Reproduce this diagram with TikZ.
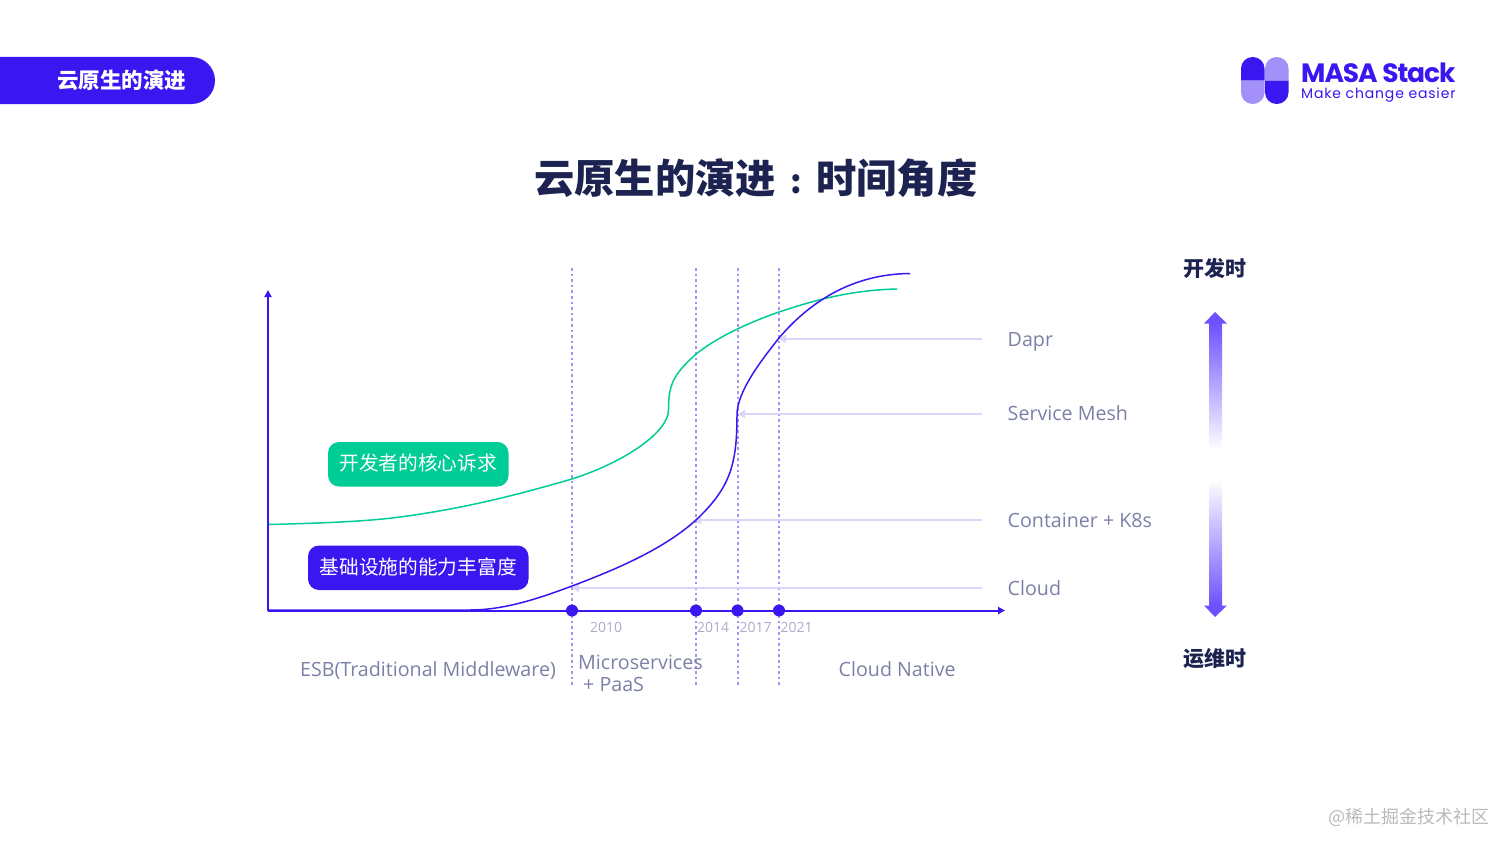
\documentclass[tikz,border=0pt]{standalone}
\usepackage{fontspec}
\usetikzlibrary{arrows.meta}
\setmainfont{Noto Sans CJK SC}
\newfontfamily\latinf{Open Sans}
\newfontfamily\logof[LetterSpace=-4]{Poppins Bold}
\newfontfamily\logosub[LetterSpace=6]{Poppins}
\definecolor{mblue}{HTML}{3A16F0}
\definecolor{mlight}{HTML}{A391F9}
\definecolor{mgreen}{HTML}{00CC96}
\definecolor{mnavy}{HTML}{1C2350}
\definecolor{mlabel}{HTML}{7B80A6}
\definecolor{myear}{HTML}{ABABC9}
\definecolor{mref}{HTML}{DAD5FA}
\definecolor{mdash}{HTML}{A592F0}
\definecolor{marrow}{HTML}{6F50FF}
\definecolor{mwater}{HTML}{B9B9B9}
\tikzset{
  px/.style={x=1pt,y=-1pt},
  lbl/.style={anchor=base west,inner sep=0pt,text=mlabel,font=\latinf\fontsize{19.65}{24}\selectfont},
  yearlbl/.style={anchor=base west,inner sep=0pt,text=myear,font=\latinf\fontsize{14}{17}\selectfont},
  dotnode/.style={circle,fill=mblue,inner sep=0pt,minimum size=12pt},
  vline/.style={mdash,line width=1.5pt,dash pattern=on 2.6pt off 3pt},
  refline/.style={mref,line width=1.5pt,-{Triangle[length=7pt,width=8pt]}},
  axis/.style={mblue,line width=2pt,-{Triangle[length=7pt,width=7pt]}},
  tagbox/.style={rounded corners=11pt,text=white,inner sep=0pt,font=\fontsize{19.7}{24}\selectfont},
  sidehead/.style={inner sep=0pt,text=mnavy,font=\bfseries\fontsize{21}{25}\selectfont}
}
\begin{document}
\begin{tikzpicture}[px]
\useasboundingbox (0,0) rectangle (1512,851);
% header pill
\fill[mblue] (0,57) [rounded corners=23.5pt] -- (215,57) -- (215,104) [sharp corners] -- (0,104) -- cycle;
\node[inner sep=0pt,text=white,font=\bfseries\fontsize{21.5}{25}\selectfont] (pill) at (121.5,80) {云原生的演进};
% logo
\fill[mblue] (1241,80.5) [rounded corners=11.5pt] -- (1241,57) -- (1264.5,57) [sharp corners] -- (1264.5,80.5) -- cycle;
\fill[mlight] (1241,80.5) [rounded corners=11.5pt] -- (1241,104) -- (1264.5,104) [sharp corners] -- (1264.5,80.5) -- cycle;
\fill[mlight] (1265,80.5) [rounded corners=11.5pt] -- (1265,57) -- (1288.5,57) [sharp corners] -- (1288.5,80.5) -- cycle;
\fill[mblue] (1265,80.5) [rounded corners=11.5pt] -- (1265,104) -- (1288.5,104) [sharp corners] -- (1288.5,80.5) -- cycle;
\node[anchor=base west,inner sep=0pt,text=mblue,font=\logof\fontsize{26.5}{30}\selectfont] (brand) at (1301,82.5) {MASA Stack};
\node[anchor=base west,inner sep=0pt,text=mblue,font=\logosub\fontsize{14}{17}\selectfont] (slogan) at (1301,98) {Make change easier};
% title
\node[inner sep=0pt,text=mnavy,font=\bfseries\fontsize{40.3}{48}\selectfont] (title) at (755.8,178) {云原生的演进\makebox[40.3pt][c]{\fontsize{33}{40}\selectfont :}时间角度};
% vertical dotted lines
\foreach \n/\x in {a/572,b/696,c/738,d/779}{
  \coordinate (\n top) at (\x,268);
  \coordinate (\n bot) at (\x,686);
  \draw[vline] (\n top) -- (\n bot);
}
% reference lines
\coordinate (r1s) at (982,339); \coordinate (r1e) at (779,339);
\coordinate (r2s) at (982,414); \coordinate (r2e) at (738,414);
\coordinate (r3s) at (982,520); \coordinate (r3e) at (694,520);
\coordinate (r4s) at (982,588); \coordinate (r4e) at (572,588);
\foreach \i in {1,2,3,4}{\draw[refline] (r\i s) -- (r\i e);}
% axes
\coordinate (origin) at (268,610.5);
\coordinate (yend) at (268,290);
\coordinate (xend) at (1005,610.5);
\draw[axis] (origin) -- (yend);
\draw[axis] (origin) -- (xend);
% curves
\draw[mgreen,line width=1.5pt] (269,524.5) .. controls (330,523) and (370,521) .. (400,517)
  .. controls (460,509) and (510,497) .. (572,479)
  .. controls (625,462) and (668.5,432) .. (668.5,410)
  .. controls (668.5,385) and (673,375) .. (695,355)
  .. controls (715,338) and (750,322) .. (779,312)
  .. controls (812,301) and (850,290) .. (897,289);
\draw[mblue,line width=1.5pt] (269,610) -- (470,610)
  .. controls (505,610) and (540,598) .. (572,586)
  .. controls (620,568) and (665,548) .. (696,520)
  .. controls (730,488) and (737,465) .. (737,415)
  .. controls (737,392) and (760,362) .. (779,338)
  .. controls (808,304) and (850,274) .. (910,273.5);
% dots
\node[dotnode] (d2010) at (572,610.5) {};
\node[dotnode] (d2014) at (696,610.5) {};
\node[dotnode] (d2017) at (737.5,610.5) {};
\node[dotnode] (d2021) at (779,610.5) {};
% year labels
\node[yearlbl] (y2010) at (590,632) {2010};
\node[yearlbl] (y2014) at (697,632) {2014};
\node[yearlbl] (y2017) at (739.5,632) {2017};
\node[yearlbl] (y2021) at (780.5,632) {2021};
% tags
\fill[mgreen,rounded corners=11pt] (328,442) rectangle (508.5,486.5);
\node[tagbox] (tag1) at (418.2,463.5) {开发者的核心诉求};
\fill[mblue,rounded corners=11pt] (308,545.5) rectangle (528.5,590);
\node[tagbox] (tag2) at (418.2,567) {基础设施的能力丰富度};
% right labels
\node[lbl] (dapr) at (1007.5,346) {Dapr};
\node[lbl] (mesh) at (1007.5,420.5) {Service Mesh};
\node[lbl] (k8s) at (1007.5,527) {Container + K8s};
\node[lbl] (cloud) at (1007.5,595) {Cloud};
% bottom labels
\node[lbl] (esb) at (300,676) {ESB(Traditional Middleware)};
\node[lbl] (micro) at (578,669) {Microservices};
\node[lbl] (paas) at (583,691) {+ PaaS};
\node[lbl] (cn) at (838.5,676) {Cloud Native};
% side
\node[sidehead] (dev) at (1215.3,268.5) {开发时};
\node[sidehead] (ops) at (1215.3,658.5) {运维时};
\fill[marrow] (1215,312) -- (1227,323.5) -- (1204,323.5) -- cycle;
\shade[top color=marrow,bottom color=white] (1209,323) rectangle (1222,450);
\fill[marrow] (1215,617) -- (1227,605.5) -- (1204,605.5) -- cycle;
\shade[top color=white,bottom color=marrow] (1209,480) rectangle (1222,606);
% watermark
\node[inner sep=0pt,text=mwater,font=\fontsize{18}{22}\selectfont] (wm) at (1408.5,817.5) {@稀土掘金技术社区};
\end{tikzpicture}
\end{document}
